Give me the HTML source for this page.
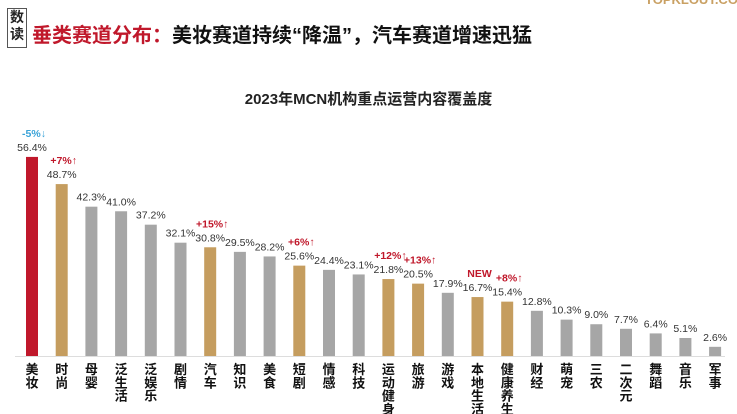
<!DOCTYPE html>
<html><head><meta charset="utf-8">
<style>
body{margin:0;width:737px;height:414px;background:#fff;overflow:hidden;font-family:"Liberation Sans","Noto Sans CJK SC",sans-serif;}
#box{position:absolute;left:7px;top:8px;width:18px;height:38px;border:1px solid #555;font:bold 14px "Noto Sans CJK SC",sans-serif;line-height:17px;text-align:center;color:#222}
#title{position:absolute;left:32px;top:19px;font:bold 20px "Liberation Sans","Noto Sans CJK SC",sans-serif;color:#111;white-space:nowrap}
#title span{color:#c0182b}
#ctitle{position:absolute;left:0;width:737px;top:88px;text-align:center;font:bold 15px "Liberation Sans","Noto Sans CJK SC",sans-serif;color:#222}
#logo{position:absolute;left:645px;top:-8px;font:bold 13px "Liberation Sans",sans-serif;color:#c9a063}
</style></head><body>
<div id="box">数<br>读</div>
<div id="title"><span>垂类赛道分布：</span>美妆赛道持续“降温”，汽车赛道增速迅猛</div>
<div id="logo">TOPKLOUT.COM</div>
<div id="ctitle">2023年MCN机构重点运营内容覆盖度</div>
<svg id="chart" width="737" height="414" style="position:absolute;left:0;top:0"></svg>
<script>
const categories=["美妆","时尚","母婴","泛生活","泛娱乐","剧情","汽车","知识","美食","短剧","情感","科技","运动健身","旅游","游戏","本地生活","健康养生","财经","萌宠","三农","二次元","舞蹈","音乐","军事"];
const values=[56.4,48.7,42.3,41.0,37.2,32.1,30.8,29.5,28.2,25.6,24.4,23.1,21.8,20.5,17.9,16.7,15.4,12.8,10.3,9.0,7.7,6.4,5.1,2.6];
const colorTypes=["red","gold","grey","grey","grey","grey","gold","grey","grey","gold","grey","grey","gold","gold","grey","gold","gold","grey","grey","grey","grey","grey","grey","grey"];
const changes=["-5%↓","+7%↑","","","","","+15%↑","","","+6%↑","","","+12%↑","+13%↑","","NEW","+8%↑","","","","","","",""];
const svg=document.getElementById('chart');
const NS='http://www.w3.org/2000/svg';
const base=356, scale=3.53, x0=32, step=29.7, bw=12;
const colors={red:"#c0182b",gold:"#c59d5f",grey:"#a6a6a6"};
const x=i=>x0+i*step;
const y=v=>base-v*scale;
const axis=document.createElementNS(NS,'line');
axis.setAttribute('x1',15);axis.setAttribute('x2',725);axis.setAttribute('y1',base+0.5);axis.setAttribute('y2',base+0.5);
axis.setAttribute('stroke','#ddd');


svg.appendChild(axis);
values.forEach((v,i)=>{
 const r=document.createElementNS(NS,'rect');
 r.setAttribute('x',x(i)-bw/2);r.setAttribute('y',y(v));r.setAttribute('width',bw);r.setAttribute('height',base-y(v));
 r.setAttribute('fill',colors[colorTypes[i]]);
 
 
 svg.appendChild(r);
 const t=document.createElementNS(NS,'text');
 t.setAttribute('x',x(i));t.setAttribute('y',y(v)-6);t.setAttribute('text-anchor','middle');
 t.setAttribute('font-size','10.5');t.setAttribute('fill','#333');t.setAttribute('font-family','Liberation Sans, sans-serif');
 t.textContent=v.toFixed(1)+'%';
 
 
 svg.appendChild(t);
 if(changes[i]){
  const c=document.createElementNS(NS,'text');
  c.setAttribute('x',x(i)+2);c.setAttribute('y',y(v)-20);c.setAttribute('text-anchor','middle');
  c.setAttribute('font-size','10.5');c.setAttribute('font-weight','bold');
  c.setAttribute('fill',changes[i][0]==='-'?'#3aa3d8':'#c0182b');
  c.setAttribute('font-family','Liberation Sans, sans-serif');
  c.textContent=changes[i];
  
  
  svg.appendChild(c);
 }
 const chars=[...categories[i]];
 chars.forEach((ch,k)=>{
  const l=document.createElementNS(NS,'text');
  l.setAttribute('x',x(i));l.setAttribute('y',374+k*13.3);l.setAttribute('text-anchor','middle');
  l.setAttribute('font-size','13');l.setAttribute('font-weight','bold');l.setAttribute('fill','#111');
  l.setAttribute('font-family','Noto Sans CJK SC, sans-serif');
  l.textContent=ch;
  
  
  svg.appendChild(l);
 });
});
</script>
</body></html>
